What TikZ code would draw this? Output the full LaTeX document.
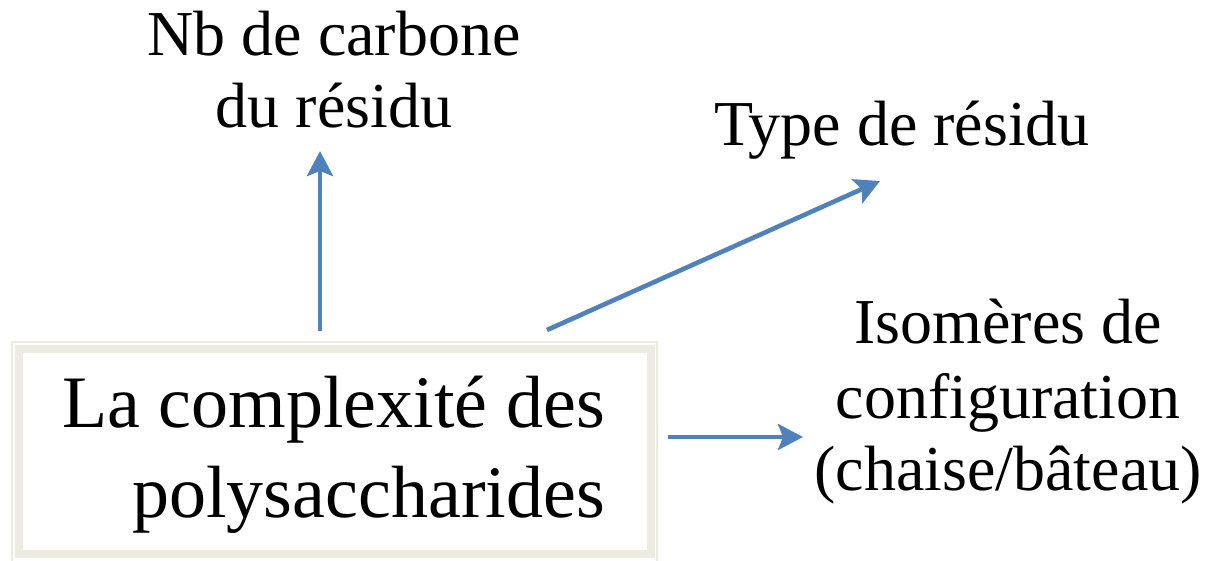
\documentclass[tikz,border=0pt]{standalone}
\usepackage{fontspec}
\setmainfont{Liberation Serif}
\usetikzlibrary{arrows.meta}
\definecolor{framebeige}{HTML}{EEECE1}
\definecolor{arrowblue}{HTML}{4F81BD}
\begin{document}
\begin{tikzpicture}[x=1pt,y=-1pt,
  lbl/.style={inner sep=0pt, anchor=base, font=\fontsize{64}{76}\selectfont},
  mainline/.style={inner sep=0pt, anchor=base east, font=\fontsize{74}{90}\selectfont},
  link/.style={draw=arrowblue, line width=4.6pt,
    -{Stealth[length=25pt,width=26pt,inset=5pt]}}]
\useasboundingbox[fill=white] (0,0) rectangle (1213,560);

% double frame around the central statement
\node[draw=framebeige, line width=2pt, minimum width=645pt, minimum height=220pt,
      anchor=north west, inner sep=0pt, outer sep=0pt] (box) at (12,342) {};
\draw[framebeige, line width=8pt] (19,349) rectangle (651,554);

% central statement
\node[mainline] (main1) at (605,427) {La complexité des};
\node[mainline] (main2) at (605,517) {polysaccharides};

% surrounding labels
\node[lbl] (nb1) at (334,55) {Nb de carbone};
\node[lbl] (nb2) at (334,127) {du résidu};
\node[lbl] (type) at (902,145) {Type de résidu};
\node[lbl] (iso1) at (1008,343) {Isomères de};
\node[lbl] (iso2) at (1008,418) {configuration};
\node[lbl] (iso3) at (1008,490) {(chaise/bâteau)};

% connectors
\draw[link] ([xshift=308pt,yshift=11pt]box.north west) -- ([xshift=-14pt,yshift=-24pt]nb2.base);
\draw[link] ([xshift=535pt,yshift=12pt]box.north west) -- ([xshift=-22pt,yshift=-36pt]type.base);
\draw[link] ([xshift=11pt,yshift=15pt]box.east) -- ([xshift=-205pt,yshift=-19pt]iso2.base);
\end{tikzpicture}
\end{document}
